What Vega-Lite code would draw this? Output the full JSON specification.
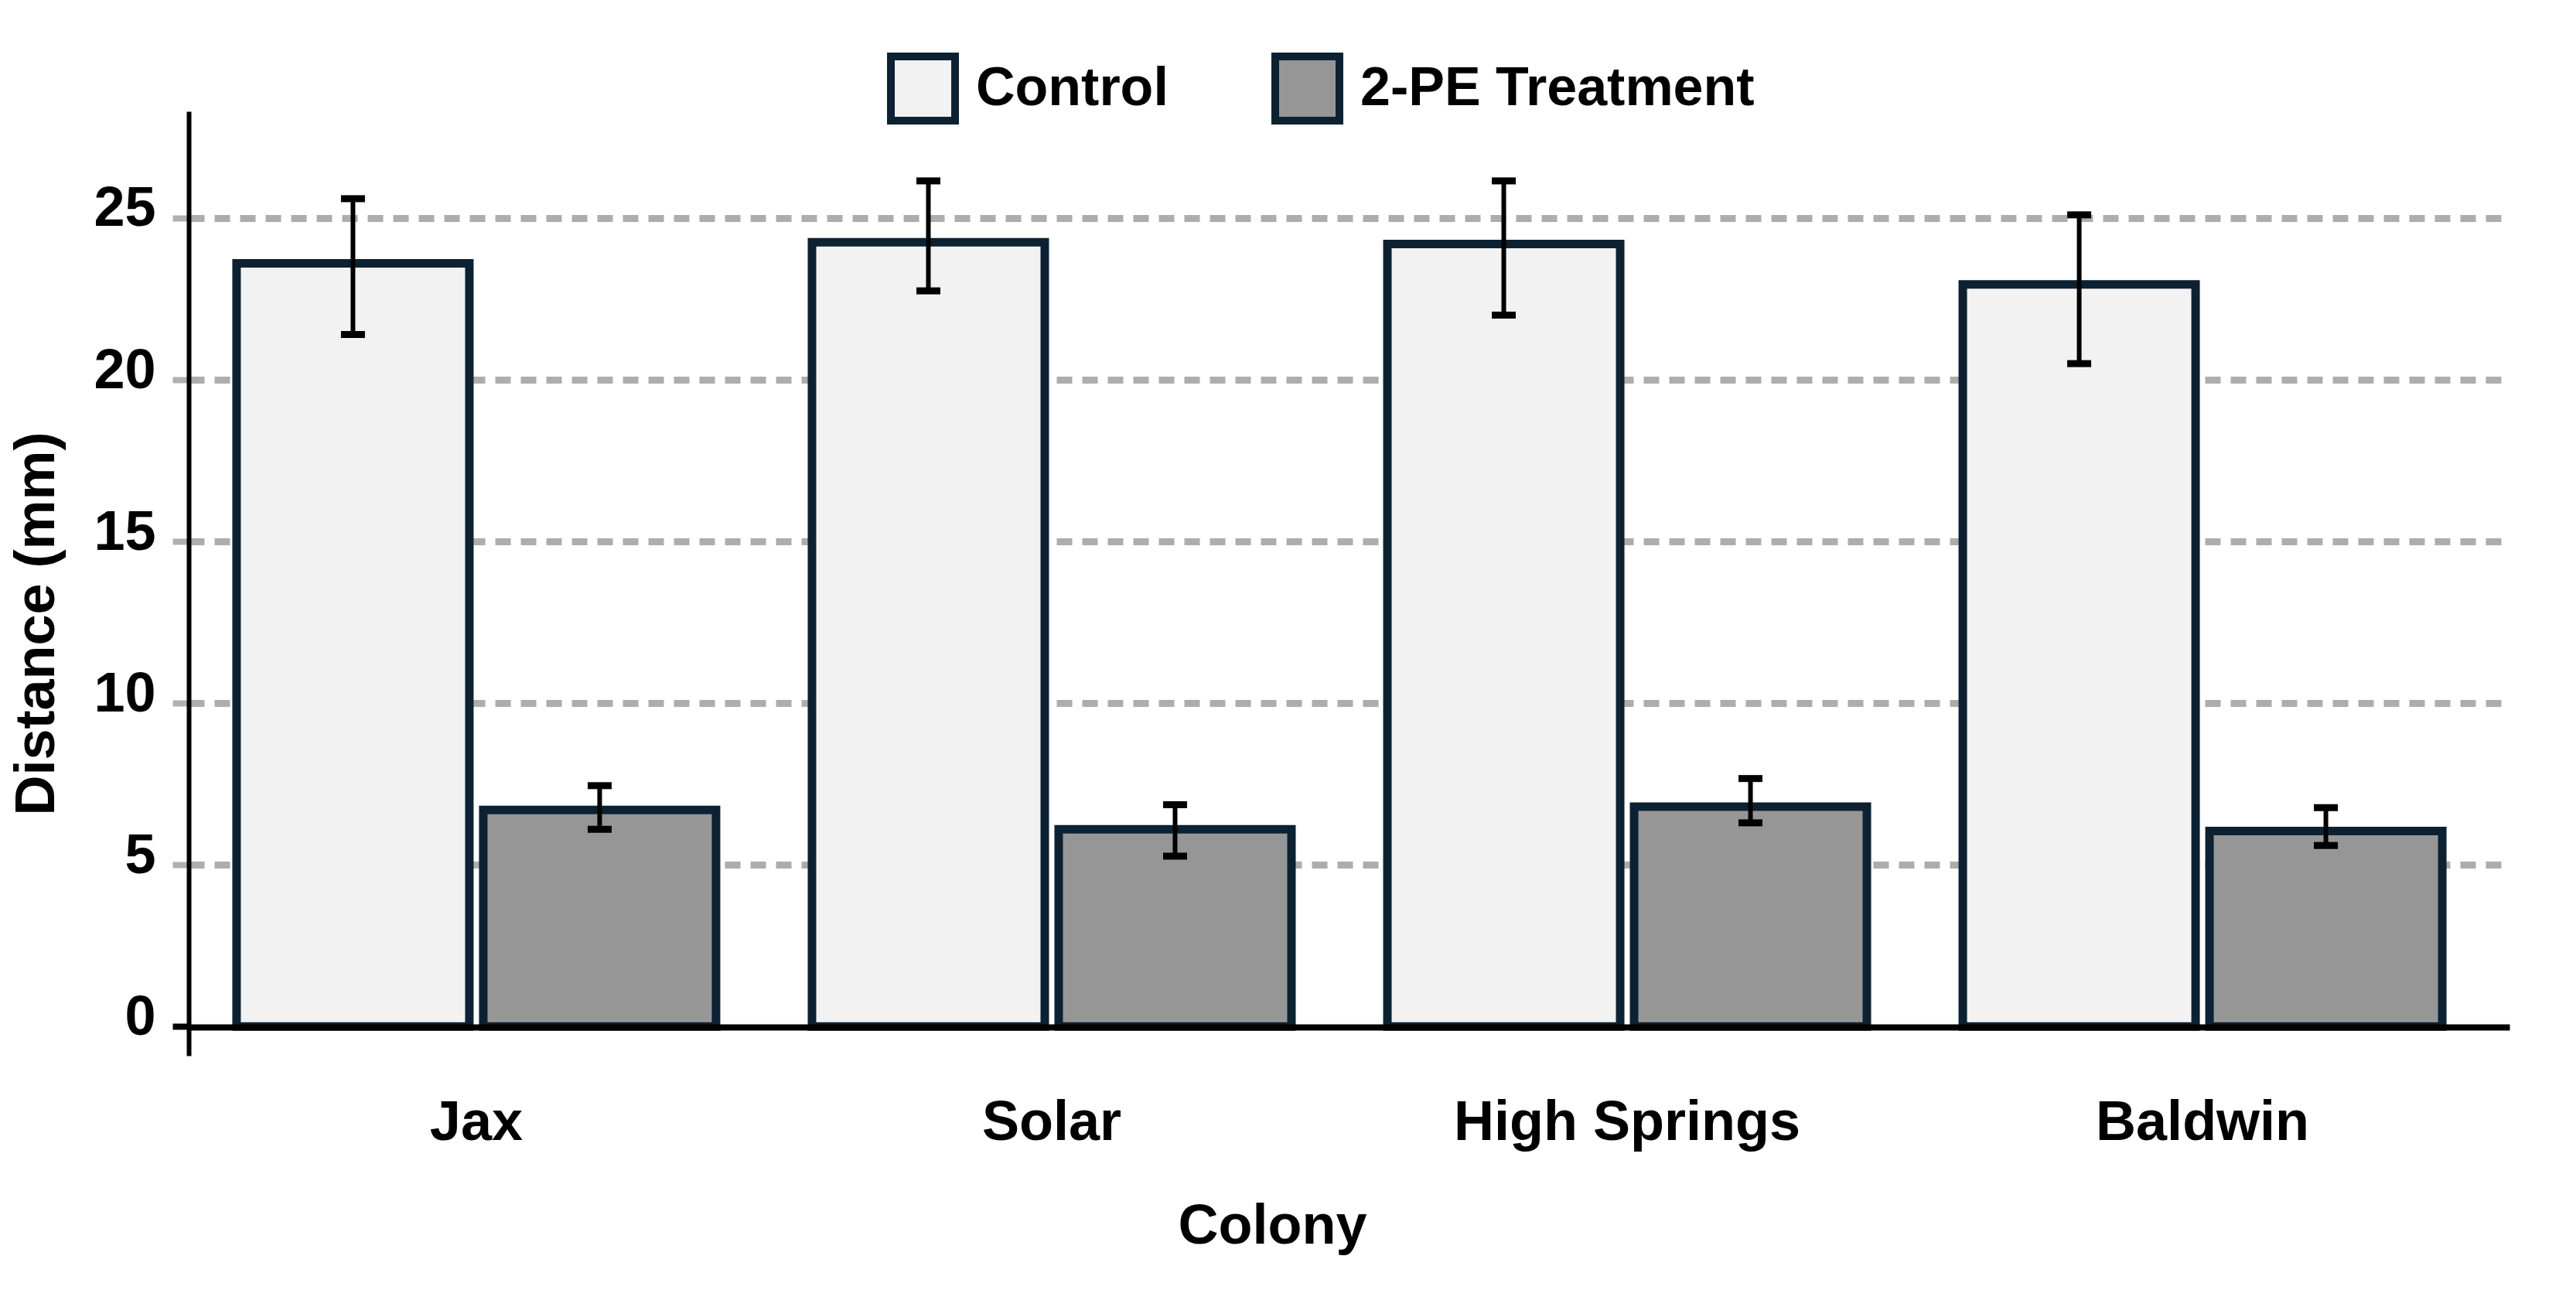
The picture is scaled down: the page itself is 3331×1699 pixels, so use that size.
{
  "$schema": "https://vega.github.io/schema/vega-lite/v6.json",
  "width": 3001,
  "height": 1221,
  "autosize": {"type": "none"},
  "padding": {"left": 244, "top": 144, "right": 86, "bottom": 334},
  "background": "white",
  "config": {
    "view": {"stroke": null},
    "font": "Liberation Sans"
  },
  "data": {
    "values": [
      {"colony": "Jax", "group": "Control", "mean": 23.6, "lower": 21.4, "upper": 25.6},
      {"colony": "Jax", "group": "2-PE Treatment", "mean": 6.7, "lower": 6.1, "upper": 7.45},
      {"colony": "Solar", "group": "Control", "mean": 24.25, "lower": 22.75, "upper": 26.15},
      {"colony": "Solar", "group": "2-PE Treatment", "mean": 6.1, "lower": 5.27, "upper": 6.86},
      {"colony": "High Springs", "group": "Control", "mean": 24.2, "lower": 22.0, "upper": 26.15},
      {"colony": "High Springs", "group": "2-PE Treatment", "mean": 6.8, "lower": 6.3, "upper": 7.67},
      {"colony": "Baldwin", "group": "Control", "mean": 22.95, "lower": 20.5, "upper": 25.1},
      {"colony": "Baldwin", "group": "2-PE Treatment", "mean": 6.05, "lower": 5.6, "upper": 6.77}
    ]
  },
  "encoding": {
    "x": {
      "field": "colony",
      "type": "nominal",
      "sort": ["Jax", "Solar", "High Springs", "Baldwin"],
      "scale": {"paddingInner": 0.1667, "paddingOuter": 0.1, "align": 0.416},
      "axis": {
        "title": "Colony",
        "orient": "bottom",
        "offset": -37,
        "zindex": 1,
        "domain": true,
        "domainColor": "black",
        "domainWidth": 8,
        "ticks": false,
        "labelAngle": 0,
        "labelFontSize": 72,
        "labelFontWeight": "bold",
        "labelColor": "black",
        "labelPadding": 88,
        "labelLimit": 1000,
        "titleFontSize": 72,
        "titleFontWeight": "bold",
        "titleColor": "black",
        "titleX": 1401,
        "titleY": 222,
        "titleAlign": "center",
        "titleBaseline": "top"
      }
    },
    "xOffset": {
      "field": "group",
      "type": "nominal",
      "sort": ["Control", "2-PE Treatment"],
      "scale": {"paddingInner": 0.0564, "paddingOuter": 0}
    }
  },
  "layer": [
    {
      "mark": {"type": "bar", "stroke": "#0c2233", "strokeWidth": 11},
      "encoding": {
        "y": {
          "field": "mean",
          "type": "quantitative",
          "scale": {"domain": [-0.9, 28.3], "nice": false, "zero": false},
          "axis": {
            "title": "Distance (mm)",
            "values": [0, 5, 10, 15, 20, 25],
            "domain": true,
            "domainColor": "black",
            "domainWidth": 6,
            "ticks": true,
            "tickSize": 21,
            "tickColor": {"condition": {"test": "datum.value === 0", "value": "black"}, "value": "#b0b0b0"},
            "tickWidth": {"condition": {"test": "datum.value === 0", "value": 8}, "value": 8},
            "grid": true,
            "gridColor": {"condition": {"test": "datum.value === 0", "value": "transparent"}, "value": "#adadad"},
            "gridDash": [20, 13],
            "gridWidth": 9,
            "labelFontSize": 72,
            "labelFontWeight": "bold",
            "labelColor": "black",
            "labelPadding": 22,
            "labelOffset": -12,
            "titleFontSize": 72,
            "titleFontWeight": "bold",
            "titleColor": "black",
            "titleAngle": 270,
            "titleX": -197,
            "titleY": 662,
            "titleAlign": "center",
            "titleBaseline": "middle"
          }
        },
        "y2": {"datum": 0},
        "color": {
          "field": "group",
          "type": "nominal",
          "scale": {"domain": ["Control", "2-PE Treatment"], "range": ["#f2f2f2", "#969696"]},
          "legend": {
            "title": null,
            "orient": "none",
            "direction": "horizontal",
            "legendX": 903,
            "legendY": -76,
            "symbolType": "square",
            "symbolSize": 6889,
            "symbolStrokeColor": "#0c2233",
            "symbolStrokeWidth": 10,
            "symbolOpacity": 1,
            "labelFontSize": 70,
            "labelFontWeight": "bold",
            "labelColor": "black",
            "labelOffset": 22,
            "labelLimit": 1000,
            "columnPadding": 118
          }
        }
      }
    },
    {
      "mark": {"type": "rule", "color": "black", "strokeWidth": 6},
      "encoding": {
        "y": {"field": "lower", "type": "quantitative"},
        "y2": {"field": "upper"}
      }
    },
    {
      "mark": {"type": "tick", "color": "black", "thickness": 9, "opacity": 1},
      "encoding": {
        "y": {"field": "lower", "type": "quantitative"},
        "size": {"value": 31}
      }
    },
    {
      "mark": {"type": "tick", "color": "black", "thickness": 9, "opacity": 1},
      "encoding": {
        "y": {"field": "upper", "type": "quantitative"},
        "size": {"value": 31}
      }
    }
  ]
}
